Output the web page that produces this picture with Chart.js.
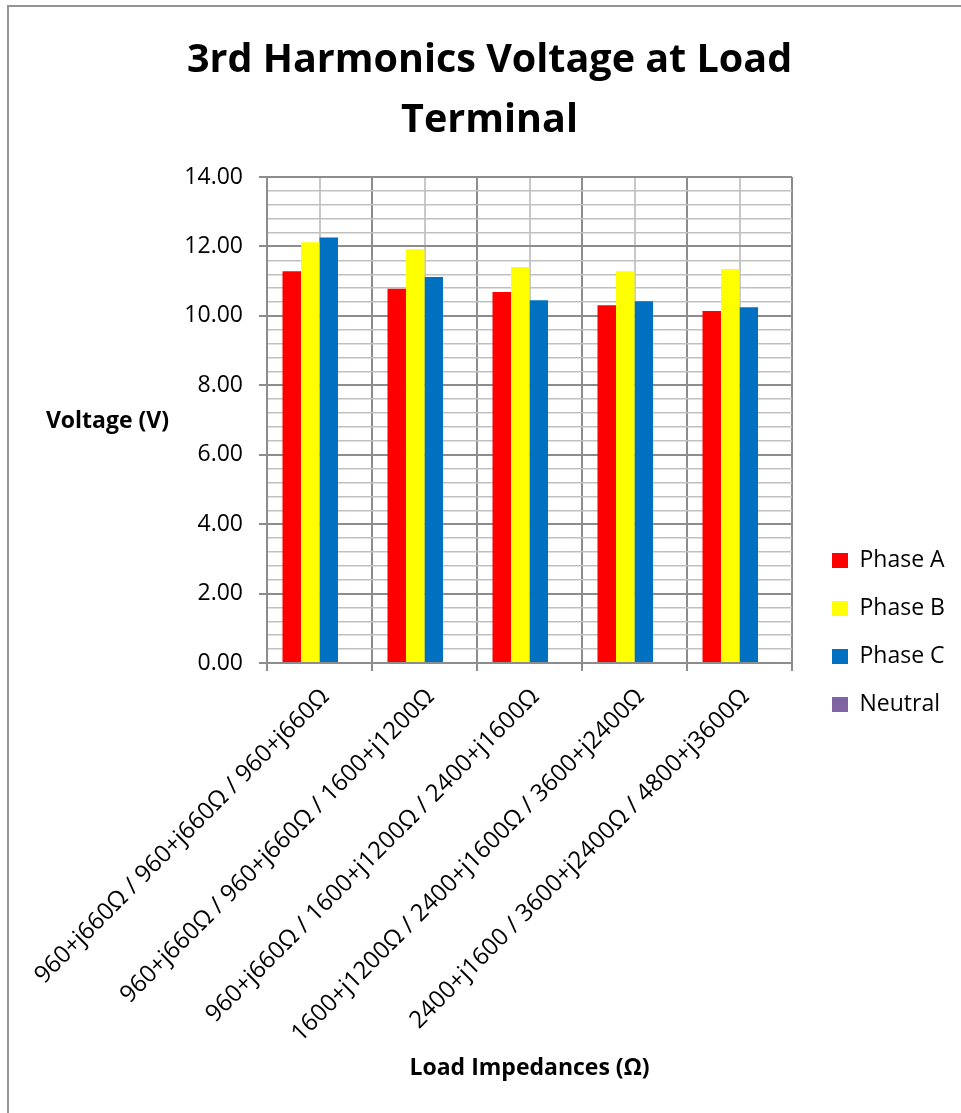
<!DOCTYPE html>
<html>
<head>
<meta charset="utf-8">
<title>3rd Harmonics Voltage at Load Terminal</title>
<script src="https://cdn.jsdelivr.net/npm/chart.js@4.4.1/dist/chart.umd.min.js"></script>
<style>
  html, body { margin: 0; padding: 0; background: #fff; overflow: hidden; }
  #wrap { position: relative; width: 961px; height: 1113px; }
  #frame { position: absolute; left: 7px; top: 5px; width: 2000px; height: 2000px;
           border-left: 2px solid #949494; border-top: 2px solid #949494; }
  #c { position: absolute; left: 0; top: 0; }
</style>
</head>
<body>
<div id="wrap">
  <div id="frame"></div>
  <canvas id="c" width="961" height="1113"></canvas>
</div>
<script>
// Load combinations (Phase A / Phase B / Phase C)
const categories = [
  '960+j660Ω / 960+j660Ω / 960+j660Ω',
  '960+j660Ω / 960+j660Ω / 1600+j1200Ω',
  '960+j660Ω / 1600+j1200Ω / 2400+j1600Ω',
  '1600+j1200Ω / 2400+j1600Ω / 3600+j2400Ω',
  '2400+j1600 / 3600+j2400Ω / 4800+j3600Ω'
];

// 3rd harmonic voltage (V) at the load terminal
const phaseA  = [11.29, 10.78, 10.69, 10.31, 10.14];
const phaseB  = [12.12, 11.92, 11.41, 11.29, 11.35];
const phaseC  = [12.26, 11.12, 10.45, 10.42, 10.25];
const neutral = [0, 0, 0, 0, 0];

const seriesNames  = ['Phase A', 'Phase B', 'Phase C', 'Neutral'];
const seriesData   = [phaseA, phaseB, phaseC, neutral];
const seriesColors = ['#FF0000', '#FFFF00', '#0070C0', '#8064A2'];

// Value axis: labelled every 2 V, minor grid every 0.4 V
const yMin = 0, yMax = 14, yMajorStep = 2, yMinorStep = 0.4;

const chartTitle = ['3rd Harmonics Voltage at Load', 'Terminal'];
const yTitle = 'Voltage (V)';
const xTitle = 'Load Impedances (Ω)';

const FAMILY = "'Open Sans', sans-serif";
const isMajor = v => Math.abs(v / yMajorStep - Math.round(v / yMajorStep)) < 1e-6;

// The chart frame is taller than the window; the legend sits at its vertical middle.
const frameHeight = 1265;
const legendWidth = 169;

const legendPlacement = {
  id: 'legendPlacement',
  beforeLayout(chart) {
    const lg = chart.legend;
    if (lg && !lg._fixedWidth) {
      const fit = lg.fit.bind(lg);
      lg.fit = function () { fit(); this.width = legendWidth; };
      lg._fixedWidth = true;
    }
  },
  afterLayout(chart) {
    const lg = chart.legend;
    if (!lg) return;
    lg.left = chart.chartArea.right + 15;
    lg.right = lg.left + lg.width;
    lg.top = 0;
    lg.bottom = frameHeight;
    lg.height = frameHeight;
  }
};

// Horizontal value-axis caption to the left of the plot
const sideTitle = {
  id: 'sideTitle',
  afterDraw(chart) {
    const { ctx, chartArea } = chart;
    ctx.save();
    ctx.font = 'bold 23px ' + FAMILY;
    ctx.fillStyle = '#000';
    ctx.textAlign = 'center';
    ctx.textBaseline = 'middle';
    ctx.fillText(yTitle, 107.5, (chartArea.top + chartArea.bottom) / 2 + 1);
    ctx.restore();
  }
};

function draw() {
  new Chart(document.getElementById('c'), {
    type: 'bar',
    data: {
      labels: categories,
      datasets: seriesNames.map((name, i) => ({
        label: name,
        data: seriesData[i],
        backgroundColor: seriesColors[i],
        borderWidth: 0,
        categoryPercentage: 0.705,
        barPercentage: 1
      }))
    },
    options: {
      responsive: false,
      animation: false,
      events: [],
      layout: { padding: { left: 18, right: 0, top: 0, bottom: 0 } },
      plugins: {
        title: {
          display: true,
          text: chartTitle,
          color: '#000',
          font: { family: FAMILY, size: 39.5, weight: 'bold', lineHeight: 1.52 },
          padding: { top: 31, bottom: 26 }
        },
        legend: {
          position: 'right',
          align: 'center',
          labels: {
            boxWidth: 16,
            boxHeight: 15,
            padding: 25,
            color: '#000',
            font: { family: FAMILY, size: 23 }
          }
        },
        tooltip: { enabled: false }
      },
      scales: {
        x: {
          type: 'category',
          position: 'bottom',
          offset: true,
          grid: { offset: true, color: '#8c8c8c', lineWidth: 2, tickLength: 8, tickColor: '#8c8c8c' },
          border: { color: '#8c8c8c', width: 2 },
          ticks: {
            color: '#000',
            font: { family: FAMILY, size: 24 },
            minRotation: 45,
            maxRotation: 45,
            padding: 12,
            labelOffset: 6,
            autoSkip: false
          },
          title: {
            display: true,
            text: xTitle,
            color: '#000',
            font: { family: FAMILY, size: 23, weight: 'bold' },
            padding: { top: 0, bottom: 31 }
          },
          afterFit(s) { s.height = 450; s.paddingLeft = 0; s.paddingRight = 0; }
        },
        // light vertical lines through the middle of each category
        xMid: {
          type: 'category',
          position: 'top',
          offset: true,
          grid: { offset: false, color: '#c8c8c8', lineWidth: 2, drawTicks: false },
          border: { display: false },
          ticks: { display: false },
          afterFit(s) { s.height = 0; s.paddingLeft = 0; s.paddingRight = 0; }
        },
        y: {
          min: yMin,
          max: yMax,
          grid: {
            color: c => isMajor(c.tick.value) ? '#8c8c8c' : '#c0c0c0',
            lineWidth: c => isMajor(c.tick.value) ? 2 : 1.5,
            tickLength: 8,
            tickColor: c => isMajor(c.tick.value) ? '#8c8c8c' : 'rgba(0,0,0,0)'
          },
          border: { color: '#8c8c8c', width: 2 },
          ticks: {
            stepSize: yMinorStep,
            autoSkip: false,
            padding: 16,
            color: '#000',
            font: { family: FAMILY, size: 23 },
            callback: v => isMajor(v) ? v.toFixed(2) : ''
          },
          afterFit(s) { s.width = 249; }
        }
      }
    },
    plugins: [legendPlacement, sideTitle]
  });
}

const fontsReady = document.fonts
  ? Promise.all([
      document.fonts.load('23px ' + FAMILY),
      document.fonts.load('bold 23px ' + FAMILY),
      document.fonts.load('bold 40px ' + FAMILY)
    ])
  : Promise.resolve();
fontsReady.catch(() => {}).then(draw);
</script>
</body>
</html>
